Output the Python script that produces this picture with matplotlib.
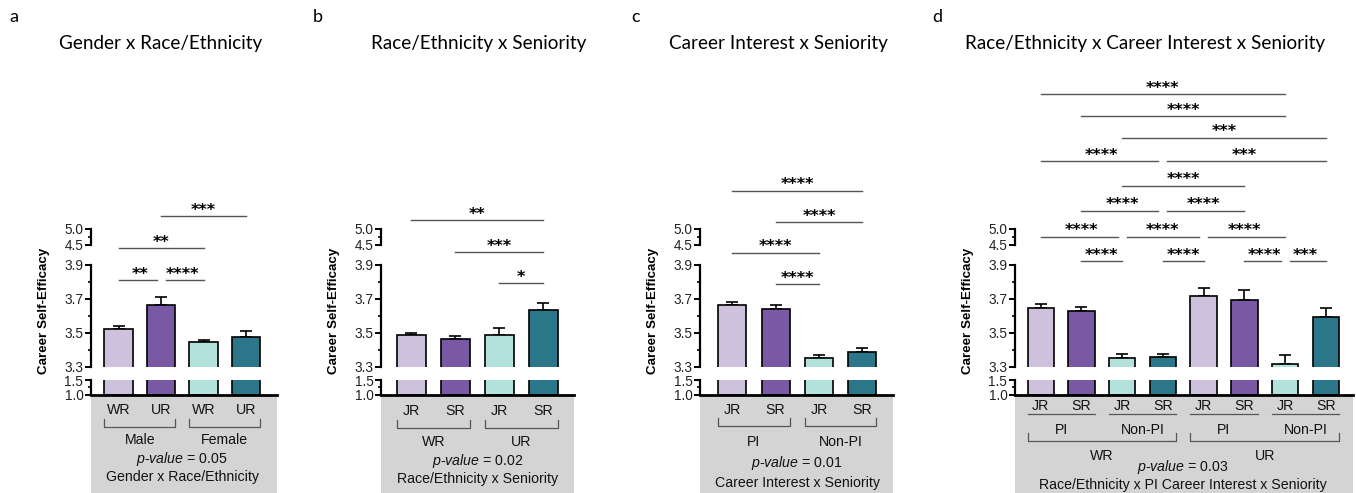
import numpy as np
import matplotlib.pyplot as plt
from matplotlib import transforms
from matplotlib.patches import Rectangle

plt.rcParams['font.family'] = 'Liberation Sans'
plt.rcParams['axes.unicode_minus'] = False
plt.rcParams['mathtext.fontset'] = 'custom'
plt.rcParams['mathtext.it'] = 'Liberation Sans:italic'
plt.rcParams['mathtext.rm'] = 'Liberation Sans'

W, H = 1356, 493

# ── Colours ───────────────────────────────────────────────────────────────
LAV = '#cdc1de'
PUR = '#7a59a4'
MINT = '#b3e1dc'
TEAL = '#2b7689'
BOX_GRAY = '#d4d4d4'
LINE_GRAY = '#555555'

# ── Data ──────────────────────────────────────────────────────────────────
a_ticks = ['WR', 'UR', 'WR', 'UR']
a_groups = ['Male', 'Female']
a_mean = [3.52, 3.665, 3.445, 3.475]
a_err = [0.02, 0.045, 0.015, 0.037]
a_sig = [(0, 1, '**'), (1, 2, '****'), (0, 2, '**'), (1, 3, '***')]

b_ticks = ['JR', 'SR', 'JR', 'SR']
b_groups = ['WR', 'UR']
b_mean = [3.485, 3.466, 3.49, 3.632]
b_err = [0.015, 0.017, 0.04, 0.044]
b_sig = [(2, 3, '*'), (1, 3, '***'), (0, 3, '**')]

c_ticks = ['JR', 'SR', 'JR', 'SR']
c_groups = ['PI', 'Non-PI']
c_mean = [3.66, 3.637, 3.35, 3.388]
c_err = [0.02, 0.026, 0.019, 0.022]
c_sig = [(1, 2, '****'), (0, 2, '****'), (1, 3, '****'), (0, 3, '****')]

d_ticks = ['JR', 'SR'] * 4
d_sub = ['PI', 'Non-PI', 'PI', 'Non-PI']
d_groups = ['WR', 'UR']
d_mean = [3.648, 3.626, 3.354, 3.356, 3.716, 3.692, 3.317, 3.593]
d_err = [0.021, 0.025, 0.02, 0.022, 0.046, 0.057, 0.055, 0.053]
d_sig = [(1, 2, '****'), (3, 4, '****'), (5, 6, '****'), (6, 7, '***'),
         (0, 2, '****'), (2, 4, '****'), (4, 6, '****'),
         (1, 3, '****'), (3, 5, '****'),
         (2, 5, '****'),
         (0, 3, '****'), (3, 7, '***'),
         (2, 7, '***'),
         (1, 6, '****'),
         (0, 6, '****')]

titles = ['Gender x Race/Ethnicity', 'Race/Ethnicity x Seniority',
          'Career Interest x Seniority',
          'Race/Ethnicity x Career Interest x Seniority']
pvals = ['0.05', '0.02', '0.01', '0.03']
interactions = ['Gender x Race/Ethnicity', 'Race/Ethnicity x Seniority',
                'Career Interest x Seniority',
                'Race/Ethnicity x PI Career Interest x Seniority']

COLORS4 = [LAV, PUR, MINT, TEAL]

# ── Layout (pixel positions, y measured from top) ─────────────────────────
Y50, Y45, Y39, Y33, Y15, Y10 = 228.5, 245.0, 264.5, 367.0, 380.0, 394.5
SEGMENTS = [
    (Y50, Y45, (4.5, 5.0), [4.5, 5.0], [4.75]),
    (Y39, Y33, (3.3, 3.9), [3.3, 3.5, 3.7, 3.9], [3.4, 3.6, 3.8]),
    (Y15, Y10, (1.0, 1.5), [1.0, 1.5], [1.25]),
]

fig = plt.figure(figsize=(W / 100, H / 100), dpi=100)


def fy(py):
    return 1 - py / H


def make_panel(spine, end, c0, sp, bw, means, errs, colors):
    n = len(means)
    x = np.arange(n)
    lo = -(c0 - spine) / sp
    hi = (n - 1) + (end - (c0 + (n - 1) * sp)) / sp
    axs = []
    for k, (ptop, pbot, ylim, major, minor) in enumerate(SEGMENTS):
        ax = fig.add_axes([spine / W, fy(pbot), (end - spine) / W,
                           (pbot - ptop) / H])
        ax.patch.set_alpha(0)
        ax.set_xlim(lo, hi)
        ax.set_ylim(*ylim)
        for s in ('top', 'right', 'bottom'):
            ax.spines[s].set_visible(False)
        ax.spines['left'].set_linewidth(1.6)
        ax.set_xticks([])
        ax.set_yticks(major)
        ax.set_yticks(minor, minor=True)
        ax.set_yticklabels([f'{v:.1f}' for v in major])
        ax.tick_params(axis='y', which='major', length=4, width=1.4,
                       labelsize=9.8, pad=1.2, labelcolor='#222222')
        ax.tick_params(axis='y', which='minor', length=2.5, width=1.2)
        if k > 0:
            ax.bar(x, np.array(means) - 1.0, bw, bottom=1.0, color=colors,
                   edgecolor='black', linewidth=1.2, zorder=2)
        if k == 1:
            ax.errorbar(x, means, yerr=[np.zeros(n), errs], fmt='none',
                        ecolor='black', elinewidth=1.2, capsize=4.3,
                        capthick=1.2, zorder=1)
        if k == 2:
            ax.spines['bottom'].set_visible(True)
            ax.spines['bottom'].set_linewidth(2.0)
        axs.append(ax)
    # gray label box
    fig.add_artist(Rectangle((spine / W, 0), (end - spine) / W, fy(Y10),
                             transform=fig.transFigure, facecolor=BOX_GRAY,
                             edgecolor='none', zorder=0))
    # y label
    fig.text((spine - 47) / W, fy(310.5), 'Career Self-Efficacy',
             rotation=90, ha='center', va='center', fontsize=9.6,
             fontweight='bold')
    return axs, x


def blend(ax):
    return transforms.blended_transform_factory(ax.transData, fig.transFigure)


def draw_sig(ax, sig, rows, sp):
    tr = blend(ax)
    gap = 4.5 / sp
    for (i, j, lab), py in zip(sig, rows):
        x0, x1 = float(i), float(j)
        for (p, q, _), r in zip(sig, rows):
            if r != py or (p, q) == (i, j):
                continue
            if q == i:
                x0 += gap
            if p == j:
                x1 -= gap
        ax.plot([x0, x1], [fy(py), fy(py)], color=LINE_GRAY, lw=1.0,
                transform=tr, clip_on=False)
        ax.text((i + j) / 2, fy(py - 1.0), lab, ha='center', va='baseline',
                fontsize=11.5, fontweight='bold', family='DejaVu Sans',
                transform=tr, clip_on=False)


def bracket(ax, xa, xb, py, tick=True):
    tr = blend(ax)
    if tick:
        ax.plot([xa, xa, xb, xb], [fy(py - 8), fy(py), fy(py), fy(py - 8)],
                color=LINE_GRAY, lw=0.9, transform=tr, clip_on=False)
    else:
        ax.plot([xa, xb], [fy(py), fy(py)], color=LINE_GRAY, lw=0.9,
                transform=tr, clip_on=False)


def box_text(ax, x, py, s, **kw):
    ax.text(x, fy(py), s, ha='center', va='center', fontsize=10.2,
            color='#111111', transform=blend(ax), clip_on=False, **kw)


def pvalue(ax, x, py, p):
    box_text(ax, x, py, r'$\it{p}$-$\it{value}$ = ' + p)


# ── Panels a–c (four bars) ────────────────────────────────────────────────
specs = [
    # spine, end, first centre, spacing, bar width, rows y (px), sig rows
    dict(spine=90.5, end=277, c0=118.5, sp=42.5, bw=0.67,
         rows=(410, 426.5, 439.5, 458.5, 476.5), sig=[280, 280, 248, 216]),
    dict(spine=381, end=574, c0=411.3, sp=44.0, bw=0.65,
         rows=(411, 427.5, 442.5, 461.5, 479.5), sig=[283, 252, 219.5]),
    dict(spine=700, end=893, c0=732.2, sp=43.4, bw=0.645,
         rows=(409.5, 426, 441.5, 463, 482.5), sig=[284, 252.5, 221.5, 190.5]),
]
panel_data = [
    (a_ticks, a_groups, a_mean, a_err, a_sig),
    (b_ticks, b_groups, b_mean, b_err, b_sig),
    (c_ticks, c_groups, c_mean, c_err, c_sig),
]

for k, (spec, (tk, grp, mean, err, sig)) in enumerate(zip(specs, panel_data)):
    axs, x = make_panel(spec['spine'], spec['end'], spec['c0'], spec['sp'],
                        spec['bw'], mean, err, COLORS4)
    bot = axs[2]
    r_tick, r_br, r_grp, r_p, r_int = spec['rows']
    for xi, t in zip(x, tk):
        box_text(bot, xi, r_tick, t)
    hw = spec['bw'] / 2
    for g, name in enumerate(grp):
        bracket(bot, 2 * g - hw, 2 * g + 1 + hw, r_br)
        box_text(bot, 2 * g + 0.5, r_grp, name)
    pvalue(bot, 1.5, r_p, pvals[k])
    box_text(bot, 1.5, r_int, interactions[k])
    draw_sig(axs[0], sig, spec['sig'], spec['sp'])

# ── Panel d (eight bars) ──────────────────────────────────────────────────
d_sp = 40.73
axs, x = make_panel(1014.5, 1353, 1040.7, d_sp, 0.646, d_mean, d_err,
                    COLORS4 * 2)
bot = axs[2]
hw = 0.646 / 2
for xi, t in zip(x, d_ticks):
    box_text(bot, xi, 406, t)
for s, name in enumerate(d_sub):
    bracket(bot, 2 * s - hw, 2 * s + 1 + hw, 413.5, tick=False)
    box_text(bot, 2 * s + 0.5, 430, name)
for g, name in enumerate(d_groups):
    bracket(bot, 4 * g - hw, 4 * g + 3 + hw, 441, tick=True)
    box_text(bot, 4 * g + 1.5, 456, name)
pvalue(bot, 3.5, 467.5, pvals[3])
box_text(bot, 3.5, 485, interactions[3])
d_rows = [261, 261, 261, 261, 236.5, 236.5, 236.5, 210.5, 210.5, 185.5,
          161, 161, 137.5, 116, 93.5]
draw_sig(axs[0], d_sig, d_rows, d_sp)

# ── Titles and panel letters ──────────────────────────────────────────────
title_x = [161, 479, 778, 1145]
letter_x = [14, 318, 636, 937]
for t, tx, lx, let in zip(titles, title_x, letter_x, 'abcd'):
    fig.text(tx / W, fy(44), t, ha='center', va='center', fontsize=13.6,
             family='Lato')
    fig.text(lx / W, fy(17), let, ha='center', va='center', fontsize=13,
             family='Lato')

fig.savefig('out.png', dpi=100, facecolor='white')
